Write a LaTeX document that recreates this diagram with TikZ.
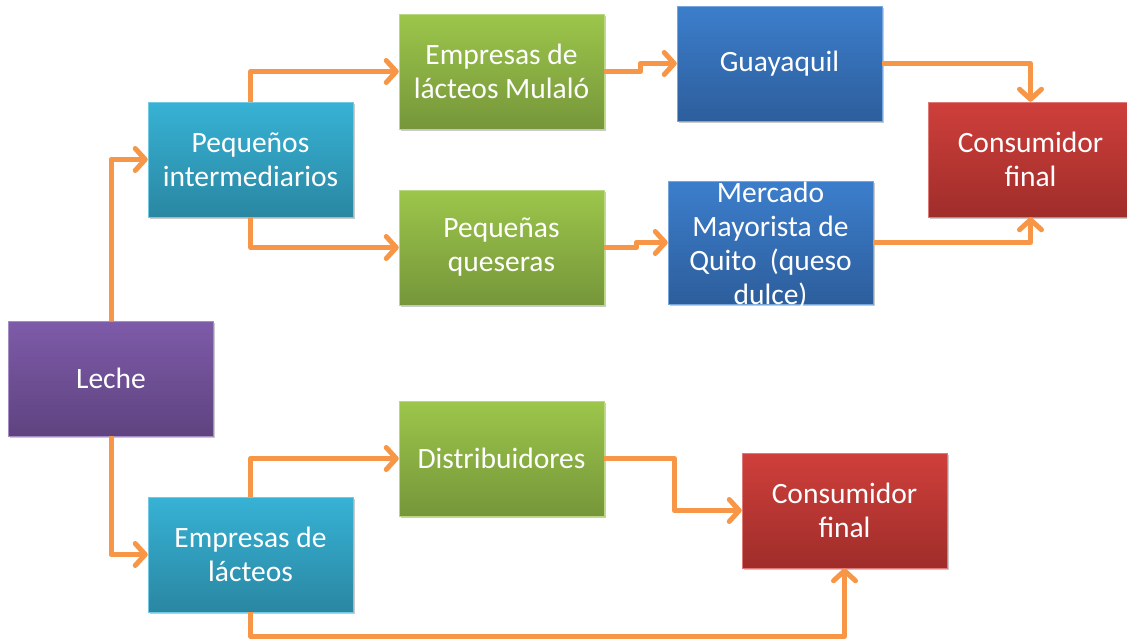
\documentclass[tikz,border=0pt]{standalone}
\usepackage{fontspec}
\setmainfont{Carlito}
\usetikzlibrary{arrows.meta,shadows}
\definecolor{cyT}{HTML}{37B2D5}\definecolor{cyB}{HTML}{2A87A2}
\definecolor{puT}{HTML}{7E5BA9}\definecolor{puB}{HTML}{5E4380}
\definecolor{grT}{HTML}{9CC64B}\definecolor{grB}{HTML}{76963A}
\definecolor{blT}{HTML}{3C7ECC}\definecolor{blB}{HTML}{2D5E9C}
\definecolor{reT}{HTML}{CF3F3B}\definecolor{reB}{HTML}{9F2D2A}
\definecolor{arrc}{HTML}{F79646}
\tikzset{
  box/.style={rectangle, inner sep=0pt, minimum width=205pt, minimum height=115pt,
    align=center, text=white, font=\fontsize{29.5}{34}\selectfont,
    drop shadow={shadow xshift=1.5pt, shadow yshift=-2pt, opacity=0.35, fill=black!60}},
  cybox/.style={box, top color=cyT, bottom color=cyB, draw=cyT!70!white, line width=0.5pt},
  pubox/.style={box, top color=puT, bottom color=puB, draw=puT!70!white, line width=0.5pt},
  grbox/.style={box, top color=grT, bottom color=grB, draw=grT!70!white, line width=0.5pt},
  blbox/.style={box, top color=blT, bottom color=blB, draw=blT!70!white, line width=0.5pt},
  rebox/.style={box, top color=reT, bottom color=reB, draw=reT!70!white, line width=0.5pt},
  arr/.style={draw=arrc, line width=5pt, line join=round,
    -{Straight Barb[length=10pt,width=22pt,round]}}
}
\begin{document}
\begin{tikzpicture}[x=1pt,y=-1pt]
\useasboundingbox (0,0) rectangle (1127,640);
\node[pubox] (leche) at (111,378.5) {Leche};
\node[cybox] (peq) at (250.5,159.5) {Pequeños\\intermediarios};
\node[cybox] (emp) at (250.5,554.5) {Empresas de\\lácteos};
\node[grbox] (mul) at (501.5,71.5) {Empresas de\\lácteos Mulaló};
\node[grbox] (ques) at (501.5,247.5) {Pequeñas\\queseras};
\node[grbox] (dist) at (501.5,458.5) {Distribuidores};
\node[blbox] (guay) at (779.5,63.5) {Guayaquil};
\node[blbox, minimum height=123pt] (merc) at (770.5,242.5)
  {\smash{\raisebox{-10pt}{\begin{tabular}{@{}c@{}}Mercado\\Mayorista de\\Quito\ \ (queso\\dulce)\end{tabular}}}};
\node[rebox] (cf1) at (1030.5,159.5) {Consumidor\\final};
\node[rebox] (cf2) at (844.5,510.5) {Consumidor\\final};
\draw[arr] (leche.north) |- (peq.west);
\draw[arr] (leche.south) |- (emp.west);
\draw[arr] (peq.north) |- (mul.west);
\draw[arr] (peq.south) |- (ques.west);
\draw[arr] (emp.north) |- (dist.west);
\draw[arr] (mul.east) -- ++(36,0) |- (guay.west);
\draw[arr] (ques.east) -- ++(32,0) |- (merc.west);
\draw[arr] (guay.east) -| (cf1.north);
\draw[arr] (merc.east) -| (cf1.south);
\draw[arr] (dist.east) -- ++(70,0) |- (cf2.west);
\draw[arr] (emp.south) -- ++(0,24) -| (cf2.south);
\end{tikzpicture}
\end{document}
